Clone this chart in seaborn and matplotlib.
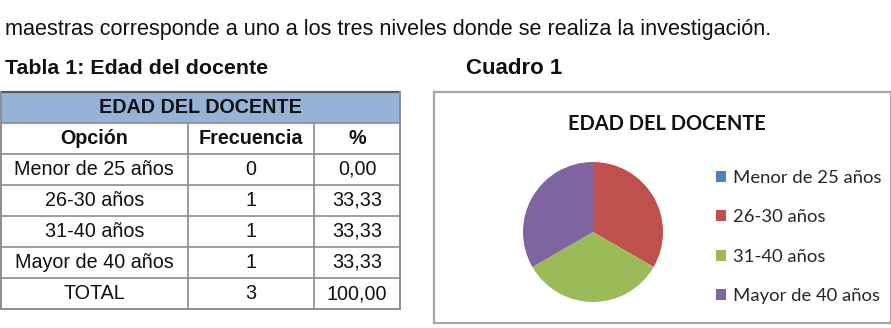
import matplotlib
matplotlib.use("Agg")
import matplotlib.pyplot as plt
import seaborn as sns
from matplotlib.patches import Rectangle

# Datos de la tabla / gráfico
opciones = ["Menor de 25 años", "26-30 años", "31-40 años", "Mayor de 40 años"]
frecuencia = [0, 1, 1, 1]
porcentaje = [0.00, 33.33, 33.33, 33.33]
columnas = ["Opción", "Frecuencia", "%"]
titulo = "EDAD DEL DOCENTE"
colores = ["#4F81BD", "#C0504D", "#9BBB59", "#8064A2"]

sns.set_theme(style="white")
plt.rcParams["font.family"] = ["Liberation Sans", "DejaVu Sans"]

W, H = 891, 328
fig = plt.figure(figsize=(W / 100, H / 100), dpi=100)
fig.patch.set_facecolor("white")


def fx(px):
    return px / W


def fy(py):
    return 1 - py / H


# Texto del documento
fig.text(fx(5), fy(30), "maestras corresponde a uno a los tres niveles donde se realiza la investigación.",
         fontsize=15.6, va="center", ha="left", color="#111111")
fig.text(fx(5), fy(68), "Tabla 1: Edad del docente", fontsize=15.4, fontweight="bold",
         va="center", ha="left", color="#111111")
fig.text(fx(466), fy(68), "Cuadro 1", fontsize=16, fontweight="bold",
         va="center", ha="left", color="#111111")

# --- Tabla --- #
ax_t = fig.add_axes([fx(1), fy(309), fx(399), (309 - 92) / H])
ax_t.set_xlim(0, 400)
n_filas = len(opciones) + 3
ax_t.set_ylim(n_filas, 0)
ax_t.axis("off")
bordes_col = [0, 187, 314, 400]
centros_col = [(bordes_col[i] + bordes_col[i + 1]) / 2 for i in range(3)]

ax_t.add_patch(Rectangle((0, 0), 400, 1, facecolor="#95B3D7", edgecolor="none"))
ax_t.text(200, 0.5, titulo, ha="center", va="center", fontsize=14.2, fontweight="bold", color="#111111")
for c, col in zip(centros_col, columnas):
    ax_t.text(c, 1.5, col, ha="center", va="center", fontsize=14.2, fontweight="bold", color="#111111")

filas = []
for op, f, p in zip(opciones, frecuencia, porcentaje):
    filas.append([op, str(f), f"{p:.2f}".replace(".", ",")])
filas.append(["TOTAL", str(sum(frecuencia)), f"{sum(porcentaje) + 0.01:.2f}".replace(".", ",")])
for i, fila in enumerate(filas):
    for c, val in zip(centros_col, fila):
        ax_t.text(c, i + 2.5, val, ha="center", va="center", fontsize=14.2, color="#111111")

lc = "#8C8C8C"
for r in range(1, n_filas):
    ax_t.plot([0, 400], [r, r], color=lc, lw=1.2, clip_on=False)
for x in bordes_col[1:-1]:
    ax_t.plot([x, x], [1, n_filas], color=lc, lw=1.2, clip_on=False)
ax_t.plot([0, 400], [0, 0], color="#5A5A5A", lw=1.6, clip_on=False)
ax_t.plot([0, 400], [n_filas, n_filas], color=lc, lw=1.4, clip_on=False)
ax_t.plot([0, 0], [0, n_filas], color=lc, lw=1.4, clip_on=False)
ax_t.plot([400, 400], [0, n_filas], color=lc, lw=1.4, clip_on=False)

# --- Gráfico circular --- #
ax_box = fig.add_axes([fx(434), fy(323), fx(891 - 434), (323 - 92) / H])
ax_box.set_xticks([])
ax_box.set_yticks([])
for s in ax_box.spines.values():
    s.set_color("#A6A6A6")
    s.set_linewidth(1.6)

fig.text(fx(667), fy(124), titulo, ha="center", va="center", fontsize=14.4,
         fontweight="bold", family=["Lato", "DejaVu Sans"], color="#111111")

ax_p = fig.add_axes([fx(523), fy(302), fx(140), 140 / H])
wedges, _ = ax_p.pie(frecuencia, colors=sns.color_palette(colores), startangle=90,
                     counterclock=False, wedgeprops=dict(linewidth=0))
ax_p.set_xlim(-1, 1)
ax_p.set_ylim(-1, 1)

fig.legend(wedges, opciones, loc="upper left", bbox_to_anchor=(fx(716), fy(170)),
           frameon=False, handlelength=0.55, handleheight=0.55, handletextpad=0.35,
           borderaxespad=0, borderpad=0, labelspacing=1.27,
           prop={"family": ["Lato", "DejaVu Sans"], "size": 13.3})

plt.savefig("out.png", dpi=100, facecolor="white")
